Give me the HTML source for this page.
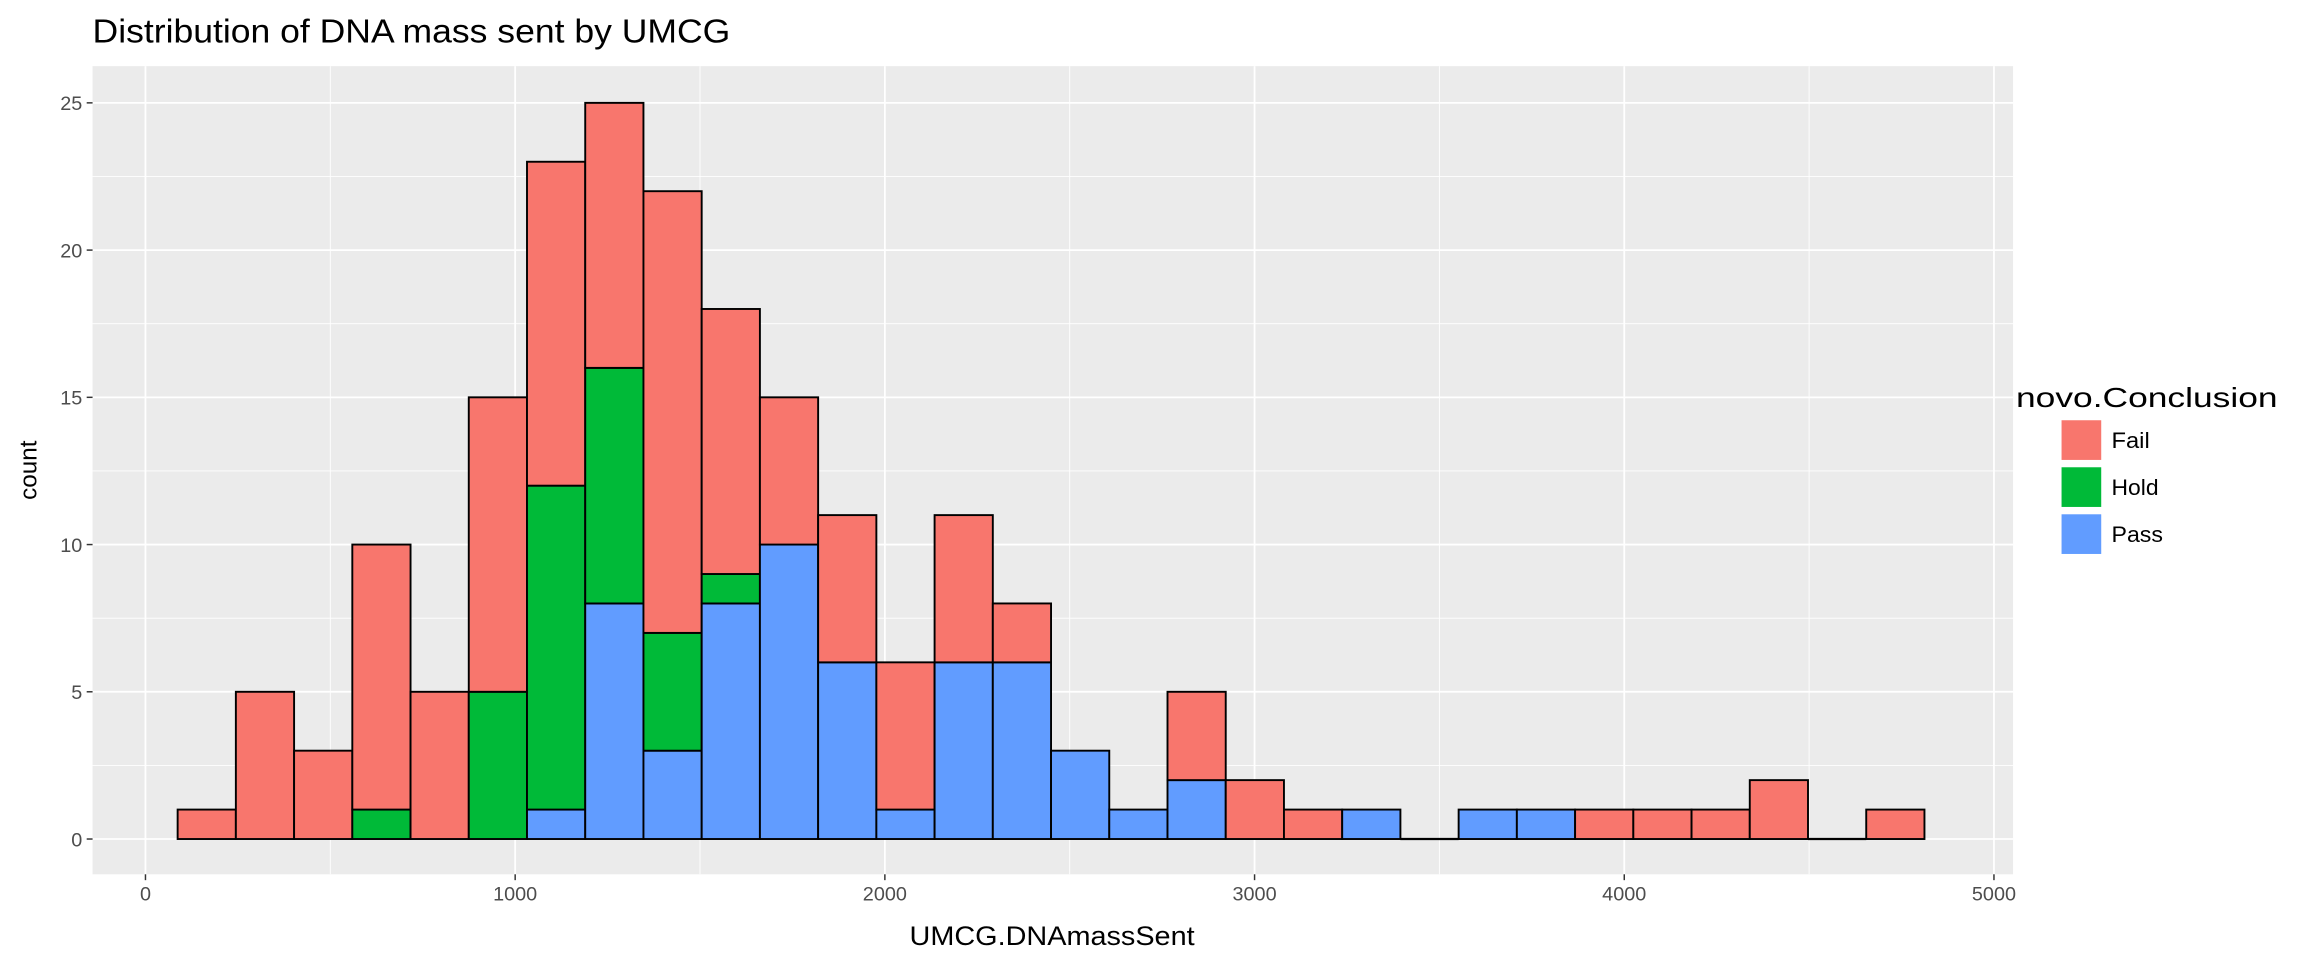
<!DOCTYPE html>
<html><head><meta charset="utf-8"><style>
html,body{margin:0;padding:0;background:#fff;}
svg{display:block;font-family:"Liberation Sans",sans-serif;}
</style></head><body>
<svg id="chart" width="2304" height="960" viewBox="0 0 1568 653.33" preserveAspectRatio="none" xmlns="http://www.w3.org/2000/svg">
<text x="63" y="29" font-size="23" fill="#000" textLength="434" lengthAdjust="spacingAndGlyphs">Distribution of DNA mass sent by UMCG</text>
<rect x="63" y="45" width="1307" height="550" fill="#ebebeb"/>
<g id="grid"></g>
<g id="bars"></g>
<g id="axes"></g>
<text transform="translate(25,320) rotate(-90)" text-anchor="middle" font-size="16.5" fill="#000">count</text>
<text x="716" y="643" text-anchor="middle" font-size="18.5" fill="#000" textLength="194" lengthAdjust="spacingAndGlyphs">UMCG.DNAmassSent</text>
<g>
<text x="1372" y="277" font-size="19" fill="#000" textLength="178" lengthAdjust="spacingAndGlyphs">novo.Conclusion</text>
<rect x="1403" y="286" width="27" height="27" fill="#F8766D"/>
<text x="1437" y="305" font-size="15" fill="#000" textLength="26" lengthAdjust="spacingAndGlyphs">Fail</text>
<rect x="1403" y="318" width="27" height="27" fill="#00BA38"/>
<text x="1437" y="337" font-size="15" fill="#000" textLength="32" lengthAdjust="spacingAndGlyphs">Hold</text>
<rect x="1403" y="350" width="27" height="27" fill="#619CFF"/>
<text x="1437" y="369" font-size="15" fill="#000" textLength="35" lengthAdjust="spacingAndGlyphs">Pass</text>
</g>
</svg>
<script>
const binStart = 87;
const binWidth = 157.5;
const passCounts = [0,0,0,0,0,0,1,8,3,8,10,6,1,6,6,3,1,2,0,0,1,0,1,1,0,0,0,0,0,0];
const holdCounts = [0,0,0,1,0,5,11,8,4,1,0,0,0,0,0,0,0,0,0,0,0,0,0,0,0,0,0,0,0,0];
const failCounts = [1,5,3,9,5,10,11,9,15,9,5,5,5,5,2,0,0,3,2,1,0,0,0,0,1,1,1,2,0,1];
const xTicks = [0,1000,2000,3000,4000,5000];
const yTicks = [0,5,10,15,20,25];

const NS="http://www.w3.org/2000/svg";
const X0=63,X1=1370,Y0=45,Y1=595;
function sx(v){return 99+v*(1357-99)/5000;}
function sy(v){return 571-v*(571-70)/25;}
function mk(tag,attrs,parent){const e=document.createElementNS(NS,tag);for(const k in attrs)e.setAttribute(k,attrs[k]);parent.appendChild(e);return e;}
const grid=document.getElementById('grid'),bars=document.getElementById('bars'),axes=document.getElementById('axes');
for(let i=0;i<xTicks.length-1;i++){const v=(xTicks[i]+xTicks[i+1])/2;const l=mk('line',{x1:sx(v),x2:sx(v),y1:Y0,y2:Y1,stroke:'#fff','stroke-width':0.6},grid);

}
for(let i=0;i<yTicks.length-1;i++){const v=(yTicks[i]+yTicks[i+1])/2;const l=mk('line',{x1:X0,x2:X1,y1:sy(v),y2:sy(v),stroke:'#fff','stroke-width':0.6},grid);

}
xTicks.forEach(v=>{const l=mk('line',{x1:sx(v),x2:sx(v),y1:Y0,y2:Y1,stroke:'#fff','stroke-width':1.2},grid);


const t=mk('line',{x1:sx(v),x2:sx(v),y1:Y1,y2:Y1+4,stroke:'#333','stroke-width':1},axes);


const tx=mk('text',{x:sx(v),y:Y1+18,'text-anchor':'middle','font-size':13.5,fill:'#4d4d4d'},axes);tx.textContent=v;

});
yTicks.forEach(v=>{const l=mk('line',{x1:X0,x2:X1,y1:sy(v),y2:sy(v),stroke:'#fff','stroke-width':1.2},grid);


const t=mk('line',{x1:X0-4,x2:X0,y1:sy(v),y2:sy(v),stroke:'#333','stroke-width':1},axes);


const tx=mk('text',{x:X0-7,y:sy(v)+5,'text-anchor':'end','font-size':13.5,fill:'#4d4d4d'},axes);tx.textContent=v;

});
const series=[['pass',passCounts,'#619CFF'],['hold',holdCounts,'#00BA38'],['fail',failCounts,'#F8766D']];
for(let i=0;i<failCounts.length;i++){
  const xa=sx(binStart+i*binWidth),xb=sx(binStart+(i+1)*binWidth);
  const total=passCounts[i]+holdCounts[i]+failCounts[i];
  if(total===0){
    const z=mk('line',{x1:xa,x2:xb,y1:sy(0),y2:sy(0),stroke:'#000','stroke-width':1.5},bars);
    
    
    continue;
  }
  let base=0;
  series.forEach(([nm,arr,col])=>{
    const c=arr[i];
    if(c>0){
      const r=mk('rect',{x:xa,y:sy(base+c),width:xb-xa,height:sy(base)-sy(base+c),fill:col,stroke:'#000','stroke-width':1.3},bars);
      
      
    }
    base+=c;
  });
}
</script>
</body></html>
